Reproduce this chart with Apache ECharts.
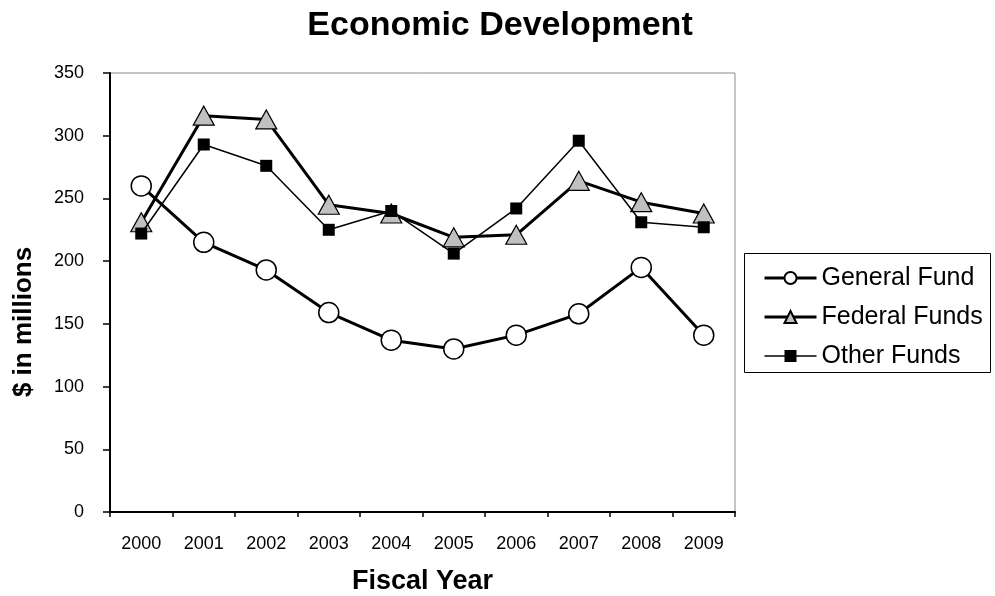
<!DOCTYPE html>
<html>
<head>
<meta charset="utf-8">
<script src="https://cdn.jsdelivr.net/npm/echarts@6/dist/echarts.min.js"></script>
<style>
  html, body { margin: 0; padding: 0; background: #fff; }
  #chart { width: 995px; height: 596px; }
</style>
</head>
<body>
<div id="chart"></div>
<script>
// Fiscal years on the category axis
const years = ['2000', '2001', '2002', '2003', '2004', '2005', '2006', '2007', '2008', '2009'];

// Spending by fund source, $ in millions
const generalFund = [260, 215, 193, 159, 137, 130, 141, 158, 195, 141];
const federalFunds = [231, 316, 313, 245, 238, 219, 221, 264, 247, 238];
const otherFunds = [222, 293, 276, 225, 240, 206, 242, 296, 231, 227];

// Value-axis range and step
const yMin = 0, yMax = 350, yStep = 50;

const FONT = '"Liberation Sans", Arial, sans-serif';

const chart = echarts.init(document.getElementById('chart'), null, { renderer: 'canvas' });

chart.setOption({
  backgroundColor: '#ffffff',
  animation: false,
  textStyle: { fontFamily: FONT, color: '#000' },
  title: {
    text: 'Economic Development',
    left: 495,
    textAlign: 'center',
    top: 4,
    textStyle: { fontFamily: FONT, fontSize: 34, fontWeight: 'bold', color: '#000' }
  },
  grid: {
    left: 110, top: 73, right: 260, bottom: 84,
    outerBoundsMode: 'none',
    containLabel: false,
    show: true, borderColor: '#8c8c8c', borderWidth: 1, backgroundColor: '#fff'
  },
  legend: {
    orient: 'vertical',
    left: 763,
    top: 265,
    padding: 0,
    itemWidth: 52,
    itemHeight: 15,
    itemGap: 13,
    textStyle: { fontFamily: FONT, fontSize: 25, lineHeight: 26, color: '#000' },
    data: [
      { name: 'General Fund', lineStyle: { width: 3 } },
      { name: 'Federal Funds', lineStyle: { width: 3 } },
      { name: 'Other Funds', lineStyle: { width: 1.5 } }
    ]
  },
  graphic: [
    {
      // frame around the legend
      type: 'rect',
      shape: { x: 744.5, y: 253.5, width: 246, height: 119 },
      style: { fill: 'none', stroke: '#000', lineWidth: 1 },
      silent: true,
      z: 0
    },
    {
      // value-axis title
      type: 'text',
      x: 24,
      y: 322,
      rotation: Math.PI / 2,
      style: {
        text: '$ in millions',
        fontFamily: FONT,
        fontSize: 26,
        fontWeight: 'bold',
        fill: '#000',
        align: 'center',
        verticalAlign: 'middle'
      },
      silent: true
    }
  ],
  xAxis: {
    type: 'category',
    data: years,
    boundaryGap: true,
    name: 'Fiscal Year',
    nameLocation: 'middle',
    nameGap: 56,
    nameTextStyle: { fontFamily: FONT, fontSize: 27, fontWeight: 'bold', color: '#000' },
    axisLine: { lineStyle: { color: '#000', width: 2 } },
    axisTick: { show: true, alignWithLabel: false, length: 5, lineStyle: { color: '#000', width: 1.5 } },
    axisLabel: { fontFamily: FONT, fontSize: 18, color: '#000', margin: 23 },
    splitLine: { show: false }
  },
  yAxis: {
    type: 'value',
    min: yMin, max: yMax, interval: yStep,
    axisLine: { show: true, lineStyle: { color: '#000', width: 2 } },
    axisTick: { show: true, length: 7, lineStyle: { color: '#000', width: 1.5 } },
    axisLabel: { fontFamily: FONT, fontSize: 18, color: '#000', margin: 26 },
    splitLine: { show: false }
  },
  series: [
    {
      name: 'General Fund',
      type: 'line',
      data: generalFund,
      symbol: 'circle',
      symbolSize: 20,
      lineStyle: { color: '#000', width: 3 },
      itemStyle: { color: '#fff', borderColor: '#000', borderWidth: 1.5 },
      z: 2
    },
    {
      name: 'Federal Funds',
      type: 'line',
      data: federalFunds,
      symbol: 'triangle',
      symbolSize: [21, 19],
      lineStyle: { color: '#000', width: 3 },
      itemStyle: { color: '#c0c0c0', borderColor: '#000', borderWidth: 1.2 },
      z: 3
    },
    {
      name: 'Other Funds',
      type: 'line',
      data: otherFunds,
      symbol: 'rect',
      symbolSize: 12,
      lineStyle: { color: '#000', width: 1.5 },
      itemStyle: { color: '#000', borderColor: '#000', borderWidth: 0 },
      z: 4
    }
  ]
});
</script>
</body>
</html>
